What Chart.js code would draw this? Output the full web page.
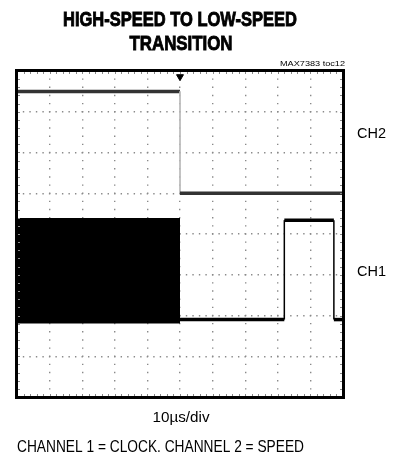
<!DOCTYPE html>
<html>
<head>
<meta charset="utf-8">
<script src="https://cdn.jsdelivr.net/npm/chart.js@4/dist/chart.umd.min.js"></script>
<style>
  html, body { margin: 0; padding: 0; background: #fff; }
  canvas { display: block; }
</style>
</head>
<body>
<canvas id="scope" width="409" height="461"></canvas>
<script>
// Time base: 10 divisions of 10 µs; vertical: 8 divisions (values in divisions from the bottom)
const timeRange = [0, 100];
const levelRange = [0, 8];

// Channel 2 (SPEED): drops at the trigger point
const ch2Time  = [0, 50, 50, 100];
const ch2Level = [7.5, 7.5, 5.0, 5.0];

// Channel 1 (CLOCK) at high speed: the burst shows as a solid band between these envelopes
const ch1BurstTime   = [0, 50];
const ch1BurstTop    = [4.37, 4.37];
const ch1BurstBottom = [1.83, 1.83];

// Channel 1 (CLOCK) after the transition: one slow pulse
const ch1Time  = [50, 82, 82, 97.2, 97.2, 100];
const ch1Level = [1.9, 1.9, 4.34, 4.34, 1.9, 1.9];

// Trigger marker at the top of the screen
const triggerTime  = [50];
const triggerLevel = [7.86];

const toPoints = (xs, ys) => xs.map((x, i) => ({ x, y: ys[i] }));
const vertical = ctx => ctx.p0.parsed.x === ctx.p1.parsed.x;

function drawFit(ctx, text, x, y, align, font, width, stroke) {
  ctx.save();
  ctx.font = font;
  const w = ctx.measureText(text).width;
  const sx = width / w;
  ctx.translate(x, y);
  ctx.scale(sx, 1);
  ctx.textAlign = align;
  ctx.textBaseline = 'alphabetic';
  ctx.fillStyle = '#000';
  ctx.fillText(text, 0, 0);
  if (stroke) {
    ctx.strokeStyle = '#000';
    ctx.lineWidth = stroke;
    ctx.strokeText(text, 0, 0);
  }
  ctx.restore();
}

const scopeDecor = {
  id: 'scopeDecor',
  afterDraw(chart) {
    const { ctx, chartArea: a, scales } = chart;
    const xs = scales.x, ys = scales.y;

    // Edge tick marks every minor subdivision
    ctx.save();
    ctx.strokeStyle = '#888';
    ctx.lineWidth = 1;
    for (let t = timeRange[0]; t <= timeRange[1]; t += 2) {
      const px = Math.round(xs.getPixelForValue(t)) + 0.5;
      ctx.beginPath();
      ctx.moveTo(px, a.top); ctx.lineTo(px, a.top + 3);
      ctx.moveTo(px, a.bottom); ctx.lineTo(px, a.bottom - 3);
      ctx.stroke();
    }
    for (let v = levelRange[0]; v <= levelRange[1] + 1e-6; v += 0.2) {
      const py = Math.round(ys.getPixelForValue(v)) + 0.5;
      ctx.beginPath();
      ctx.moveTo(a.left, py); ctx.lineTo(a.left + 3, py);
      ctx.moveTo(a.right, py); ctx.lineTo(a.right - 3, py);
      ctx.stroke();
    }
    ctx.restore();

    // Screen frame
    ctx.save();
    ctx.strokeStyle = '#000';
    ctx.lineWidth = 3;
    ctx.strokeRect(a.left - 0.5, a.top - 0.5, a.right - a.left + 1, a.bottom - a.top + 1);
    ctx.restore();

    const fam = '"Liberation Sans", Arial, sans-serif';
    drawFit(ctx, 'HIGH-SPEED TO LOW-SPEED', 180, 26, 'center', `bold 21px ${fam}`, 234, 0.9);
    drawFit(ctx, 'TRANSITION', 181, 50, 'center', `bold 21px ${fam}`, 103, 0.9);
    drawFit(ctx, 'MAX7383 toc12', 345, 66, 'right', `8px ${fam}`, 65);
    drawFit(ctx, 'CH2', 357, 138, 'left', `14px ${fam}`, 29);
    drawFit(ctx, 'CH1', 357, 276, 'left', `14px ${fam}`, 29);
    drawFit(ctx, '10µs/div', 181, 422, 'center', `15px ${fam}`, 57);
    drawFit(ctx, 'CHANNEL 1 = CLOCK. CHANNEL 2 = SPEED', 17, 452, 'left', `17px ${fam}`, 287);
  }
};

new Chart(document.getElementById('scope'), {
  type: 'line',
  data: {
    datasets: [
      {
        label: 'CH2',
        data: toPoints(ch2Time, ch2Level),
        borderColor: '#333',
        borderWidth: 3.5,
        pointRadius: 0,
        segment: {
          borderWidth: c => vertical(c) ? 1 : 3.5,
          borderColor: c => vertical(c) ? '#bbb' : '#333'
        }
      },
      {
        label: 'CH1 burst',
        data: toPoints(ch1BurstTime, ch1BurstTop),
        borderColor: '#000',
        borderWidth: 2,
        backgroundColor: '#000',
        fill: '+1',
        pointRadius: 0
      },
      {
        label: 'CH1 burst floor',
        data: toPoints(ch1BurstTime, ch1BurstBottom),
        borderColor: '#000',
        borderWidth: 2,
        pointRadius: 0
      },
      {
        label: 'CH1',
        data: toPoints(ch1Time, ch1Level),
        borderColor: '#000',
        borderWidth: 3.5,
        pointRadius: 0,
        segment: {
          borderWidth: c => vertical(c) ? 1.5 : 3.5
        }
      },
      {
        type: 'scatter',
        label: 'Trigger',
        data: toPoints(triggerTime, triggerLevel),
        pointStyle: 'triangle',
        rotation: 180,
        pointRadius: 4,
        backgroundColor: '#000',
        borderColor: '#000'
      }
    ]
  },
  options: {
    responsive: false,
    animation: false,
    events: [],
    layout: { padding: { left: 17, top: 71, right: 66, bottom: 64 } },
    plugins: { legend: { display: false }, tooltip: { enabled: false } },
    scales: {
      x: {
        type: 'linear',
        min: timeRange[0], max: timeRange[1],
        ticks: { display: false, stepSize: 10 },
        border: { display: false, dash: [1.4, 40.75 / 5 - 1.4], dashOffset: 0.7 },
        grid: { color: '#8a8a8a', lineWidth: 1.4, drawTicks: false }
      },
      y: {
        type: 'linear',
        min: levelRange[0], max: levelRange[1],
        ticks: { display: false, stepSize: 1 },
        border: { display: false, dash: [1.4, 32.6 / 5 - 1.4], dashOffset: 0.7 },
        grid: { color: '#8a8a8a', lineWidth: 1.4, drawTicks: false }
      }
    }
  },
  plugins: [scopeDecor]
});
</script>
</body>
</html>
